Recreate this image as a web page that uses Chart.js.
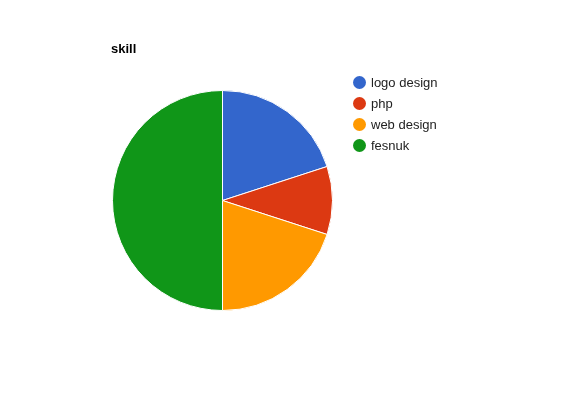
<!DOCTYPE html>
<html>
<head>
<meta charset="utf-8">
<script src="https://cdn.jsdelivr.net/npm/chart.js@4/dist/chart.umd.min.js"></script>
<style>
  html, body { margin: 0; padding: 0; background: #fff; }
  #wrap { position: relative; width: 580px; height: 400px; font-family: "Liberation Sans", Arial, sans-serif; }
  #c { position: absolute; left: 0; top: 0; }
  #title { position: absolute; left: 111px; top: 41px; font-size: 13px; font-weight: bold; color: #000; }
  #legend { position: absolute; left: 353px; top: 72px; font-size: 13px; color: #222; }
  .item { height: 21px; display: flex; align-items: center; }
  .dot { width: 13px; height: 13px; border-radius: 50%; margin-right: 5px; }
</style>
</head>
<body>
<div id="wrap">
  <canvas id="c" width="580" height="400"></canvas>
  <div id="title"></div>
  <div id="legend"></div>
</div>
<script>
const chartTitle = "skill";
const categories = ["logo design", "php", "web design", "fesnuk"];
const values = [20, 10, 20, 50];
const colors = ["#3366cc", "#dc3912", "#ff9900", "#109618"];

document.getElementById("title").textContent = chartTitle;
const legend = document.getElementById("legend");
categories.forEach((name, i) => {
  const item = document.createElement("div");
  item.className = "item";
  const dot = document.createElement("span");
  dot.className = "dot";
  dot.style.background = colors[i];
  const label = document.createElement("span");
  label.textContent = name;
  item.appendChild(dot);
  item.appendChild(label);
  legend.appendChild(item);
});

new Chart(document.getElementById("c"), {
  type: "pie",
  data: {
    labels: categories,
    datasets: [{
      data: values,
      backgroundColor: colors,
      borderColor: "#ffffff",
      borderWidth: 1
    }]
  },
  options: {
    responsive: false,
    animation: false,
    layout: { padding: { top: 90, bottom: 89, left: 112, right: 247 } },
    plugins: { legend: { display: false }, tooltip: { enabled: false }, title: { display: false } }
  }
});
</script>
</body>
</html>
